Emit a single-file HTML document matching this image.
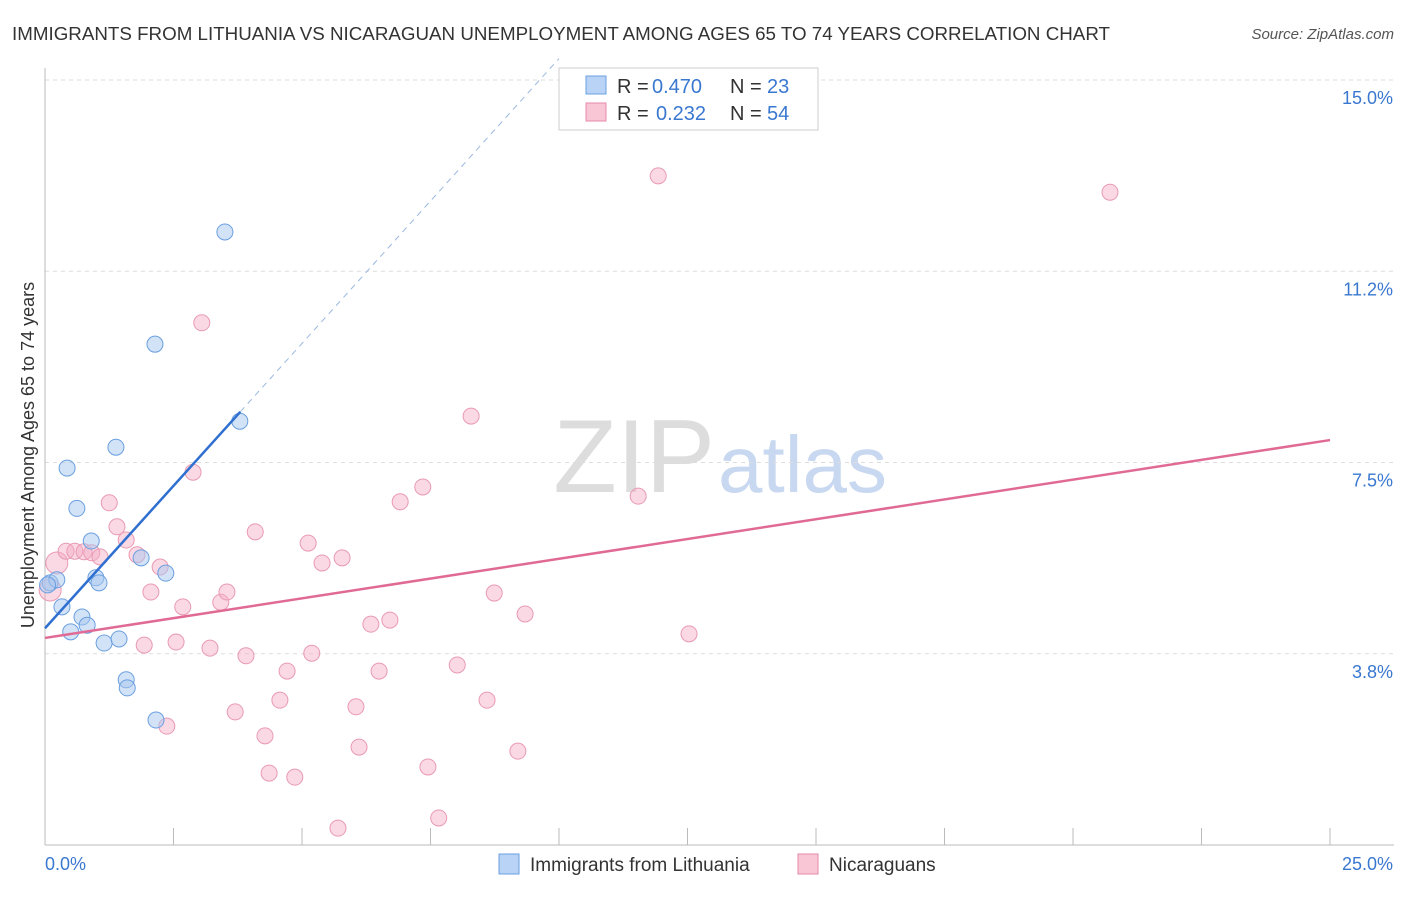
<!DOCTYPE html>
<html><head><meta charset="utf-8"><style>
body{margin:0;background:#fff;font-family:"Liberation Sans",sans-serif}
svg text{font-family:"Liberation Sans",sans-serif}
</style></head><body>
<svg width="1406" height="892" id="c">
<text x="12" y="40" font-size="18" fill="#333" textLength="1098" lengthAdjust="spacingAndGlyphs">IMMIGRANTS FROM LITHUANIA VS NICARAGUAN UNEMPLOYMENT AMONG AGES 65 TO 74 YEARS CORRELATION CHART</text>
<text x="1394" y="39" font-size="15" fill="#555" font-style="italic" text-anchor="end">Source: ZipAtlas.com</text>
<text x="34" y="455" font-size="18" fill="#333" text-anchor="middle" transform="rotate(-90 34 455)">Unemployment Among Ages 65 to 74 years</text>
<text x="715" y="492" font-size="104" fill="#ddd" text-anchor="end" font-family="Liberation Serif">ZIP</text>
<text x="718" y="492" font-size="80" fill="#c8d8f0">atlas</text>
<g id="grid"></g><g id="marks"></g>
<g>
<rect x="559" y="68" width="259" height="62" fill="#fff" stroke="#ccc"/>
<rect x="586" y="76" width="20" height="18" fill="#b8d3f5" stroke="#6a9fe0"/>
<text x="617" y="93" font-size="20" fill="#333">R =</text>
<text x="652" y="93" font-size="20" fill="#3a78d0">0.470</text>
<text x="730" y="93" font-size="20" fill="#333">N =</text>
<text x="767" y="93" font-size="20" fill="#3a78d0">23</text>
<rect x="586" y="103" width="20" height="18" fill="#f8c6d5" stroke="#e88aa8"/>
<text x="617" y="120" font-size="20" fill="#333">R =</text>
<text x="656" y="120" font-size="20" fill="#3a78d0">0.232</text>
<text x="730" y="120" font-size="20" fill="#333">N =</text>
<text x="767" y="120" font-size="20" fill="#3a78d0">54</text>
</g>
<g>
<rect x="499" y="854" width="20" height="20" fill="#b8d3f5" stroke="#6a9fe0"/>
<text x="530" y="871" font-size="19" fill="#333">Immigrants from Lithuania</text>
<rect x="798" y="854" width="20" height="20" fill="#f8c6d5" stroke="#e88aa8"/>
<text x="829" y="871" font-size="19" fill="#333">Nicaraguans</text>
</g>
</svg>
<script>
const xTicks=[0,2.5,5,7.5,10,12.5,15,17.5,20,22.5,25];
const yTicks=[3.75,7.5,11.25,15];
const yTickLabels=["3.8%","7.5%","11.2%","15.0%"];
const blueX=[0.1,0.23,0.33,0.43,0.5,0.62,0.72,0.82,0.9,0.99,1.05,1.15,1.38,1.44,1.58,1.6,1.87,2.14,2.16,2.35,3.5,3.79,0.05];
const blueY=[5.14,5.2,4.67,7.39,4.18,6.6,4.47,4.31,5.96,5.24,5.14,3.96,7.8,4.04,3.24,3.08,5.63,9.82,2.45,5.33,12.02,8.31,5.1];
const pinkX=[0.1,0.23,0.41,0.58,0.76,0.91,1.07,1.25,1.4,1.58,1.79,1.93,2.06,2.24,2.37,2.55,2.68,2.88,3.05,3.21,3.42,3.54,3.7,3.91,4.09,4.28,4.36,4.57,4.71,4.86,5.12,5.19,5.39,5.7,5.78,6.05,6.11,6.34,6.5,6.71,6.91,7.35,7.45,7.66,8.02,8.29,8.6,8.74,9.2,9.34,11.54,11.93,12.53,20.72];
const pinkY=[5.0,5.53,5.76,5.76,5.75,5.73,5.65,6.71,6.24,5.98,5.69,3.92,4.96,5.45,2.33,3.98,4.67,7.31,10.24,3.86,4.76,4.96,2.61,3.71,6.14,2.14,1.41,2.84,3.41,1.33,5.92,3.76,5.53,0.33,5.63,2.71,1.92,4.33,3.41,4.41,6.73,7.02,1.53,0.53,3.53,8.41,2.84,4.94,1.84,4.53,6.84,13.12,4.14,12.8];
const blueLine=[4.25,1.117];
const pinkLine=[4.06,7.94];
const X=v=>45+v*51.4, Y=v=>845-v*51;
const NS="http://www.w3.org/2000/svg";
function mk(t,a,p){const e=document.createElementNS(NS,t);for(const k in a)e.setAttribute(k,a[k]);p.appendChild(e);return e;}
const g=document.getElementById('grid'), m=document.getElementById('marks');
yTicks.forEach((v,i)=>{
 const l=mk('line',{x1:45,x2:1394,y1:Y(v),y2:Y(v),stroke:'#ddd','stroke-dasharray':'4,4'},g);
 
 
 const t=mk('text',{x:1393,y:Y(v)+24,'font-size':18,fill:'#3a78d0','text-anchor':'end'},g);
 t.textContent=yTickLabels[i];
 
 
});
mk('line',{x1:45,x2:1394,y1:80,y2:80,stroke:'#ddd','stroke-dasharray':'4,4'},g);
mk('line',{x1:45,x2:45,y1:68,y2:845,stroke:'#bbb'},g);
mk('line',{x1:45,x2:1394,y1:845,y2:845,stroke:'#bbb'},g);
xTicks.forEach(v=>{const l=mk('line',{x1:X(v),x2:X(v),y1:828,y2:845,stroke:'#bbb'},g);
 
 });
const t0=mk('text',{x:45,y:870,'font-size':18,fill:'#3a78d0'},g);t0.textContent="0.0%";


const t1=mk('text',{x:1393,y:870,'font-size':18,fill:'#3a78d0','text-anchor':'end'},g);t1.textContent="25.0%";


pinkX.forEach((x,i)=>{const c=mk('circle',{cx:X(x),cy:Y(pinkY[i]),r:i<2?11:8,fill:'rgba(245,170,195,0.45)',stroke:'#e99ab3','stroke-width':1},m);
 
 });
blueX.forEach((x,i)=>{const c=mk('circle',{cx:X(x),cy:Y(blueY[i]),r:8,fill:'rgba(168,200,240,0.5)',stroke:'#6a9fe0','stroke-width':1},m);
 
 });
const pl=mk('line',{x1:X(0),y1:Y(pinkLine[0]),x2:X(25),y2:Y(pinkLine[1]),stroke:'#e06a94','stroke-width':2.5},m);


const bl=mk('line',{x1:X(0),y1:Y(blueLine[0]),x2:X(3.8),y2:Y(blueLine[0]+blueLine[1]*3.8),stroke:'#2f6fd0','stroke-width':2.5},m);


const bd=mk('line',{x1:X(3.8),y1:Y(blueLine[0]+blueLine[1]*3.8),x2:X(10),y2:Y(blueLine[0]+blueLine[1]*10),stroke:'#9bb8e0','stroke-width':1,'stroke-dasharray':'6,5'},m);


</script>
</body></html>
